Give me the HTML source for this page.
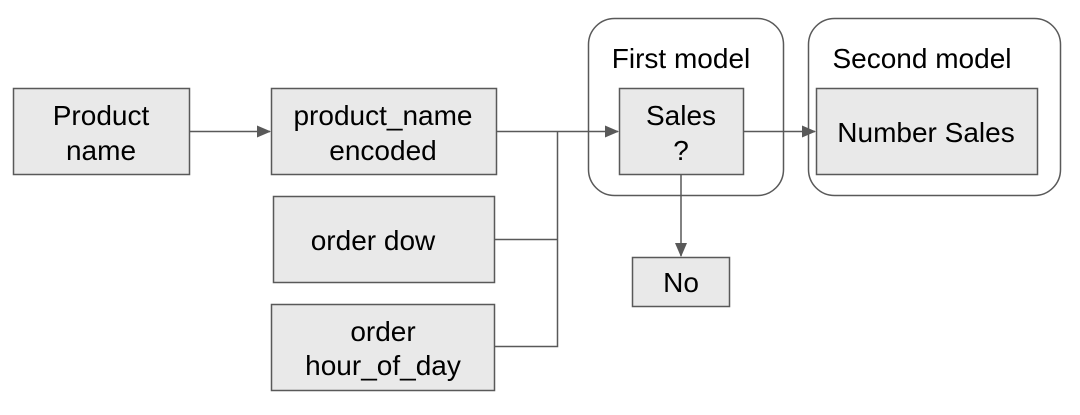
<!DOCTYPE html>
<html><head><meta charset="utf-8"><style>
html,body{margin:0;padding:0;background:#fff;width:1080px;height:415px;overflow:hidden}
text{font-family:"Liberation Sans",Arial,sans-serif;font-size:28px;fill:#000}
</style></head><body>
<svg width="1080" height="415" viewBox="0 0 1080 415" xmlns="http://www.w3.org/2000/svg">
<defs>
<marker id="b" markerWidth="14" markerHeight="14" refX="13" refY="6" orient="auto" markerUnits="userSpaceOnUse"><path d="M0,0 L14,6 L0,12 z" fill="#595959"/></marker></defs>
<g fill="none" stroke="#595959" stroke-width="1.5">
<rect x="588.5" y="18.5" width="195" height="177" rx="26"/>
<rect x="808.5" y="18.5" width="252" height="177" rx="26"/>
</g>
<g fill="#e9e9e9" stroke="#595959" stroke-width="1.5">
<rect x="13.5" y="88.5" width="176" height="86"/>
<rect x="271.5" y="88.5" width="225" height="86"/>
<rect x="273.5" y="196.5" width="221" height="86"/>
<rect x="271.5" y="304.5" width="223" height="86"/>
<rect x="619.5" y="88.5" width="124" height="86"/>
<rect x="816.5" y="88.5" width="221" height="86"/>
<rect x="632.5" y="257.5" width="97" height="49"/>
</g>
<g fill="none" stroke="#595959" stroke-width="1.5">
<line x1="190" y1="131.5" x2="270" y2="131.5" marker-end="url(#b)"/>
<line x1="497" y1="131.5" x2="618" y2="131.5" marker-end="url(#b)"/>
<polyline points="494,239.5 557.5,239.5"/>
<polyline points="494,346.5 557.5,346.5 557.5,131.5"/>
<line x1="744" y1="131.5" x2="815" y2="131.5" marker-end="url(#b)"/>
<line x1="681" y1="175" x2="681" y2="256" marker-end="url(#b)"/>
</g>
<g text-anchor="middle">
<text x="101" y="125">Product</text><text x="101" y="160">name</text>
<text x="383" y="125">product_name</text><text x="383" y="160">encoded</text>
<text x="373" y="250">order dow</text>
<text x="383" y="341">order</text><text x="383" y="375">hour_of_day</text>
<text x="681" y="68">First model</text>
<text x="922" y="68">Second model</text>
<text x="681" y="125">Sales</text><text x="681" y="160">?</text>
<text x="926" y="142">Number Sales</text>
<text x="681" y="292">No</text>
</g>
</svg>
</body></html>
